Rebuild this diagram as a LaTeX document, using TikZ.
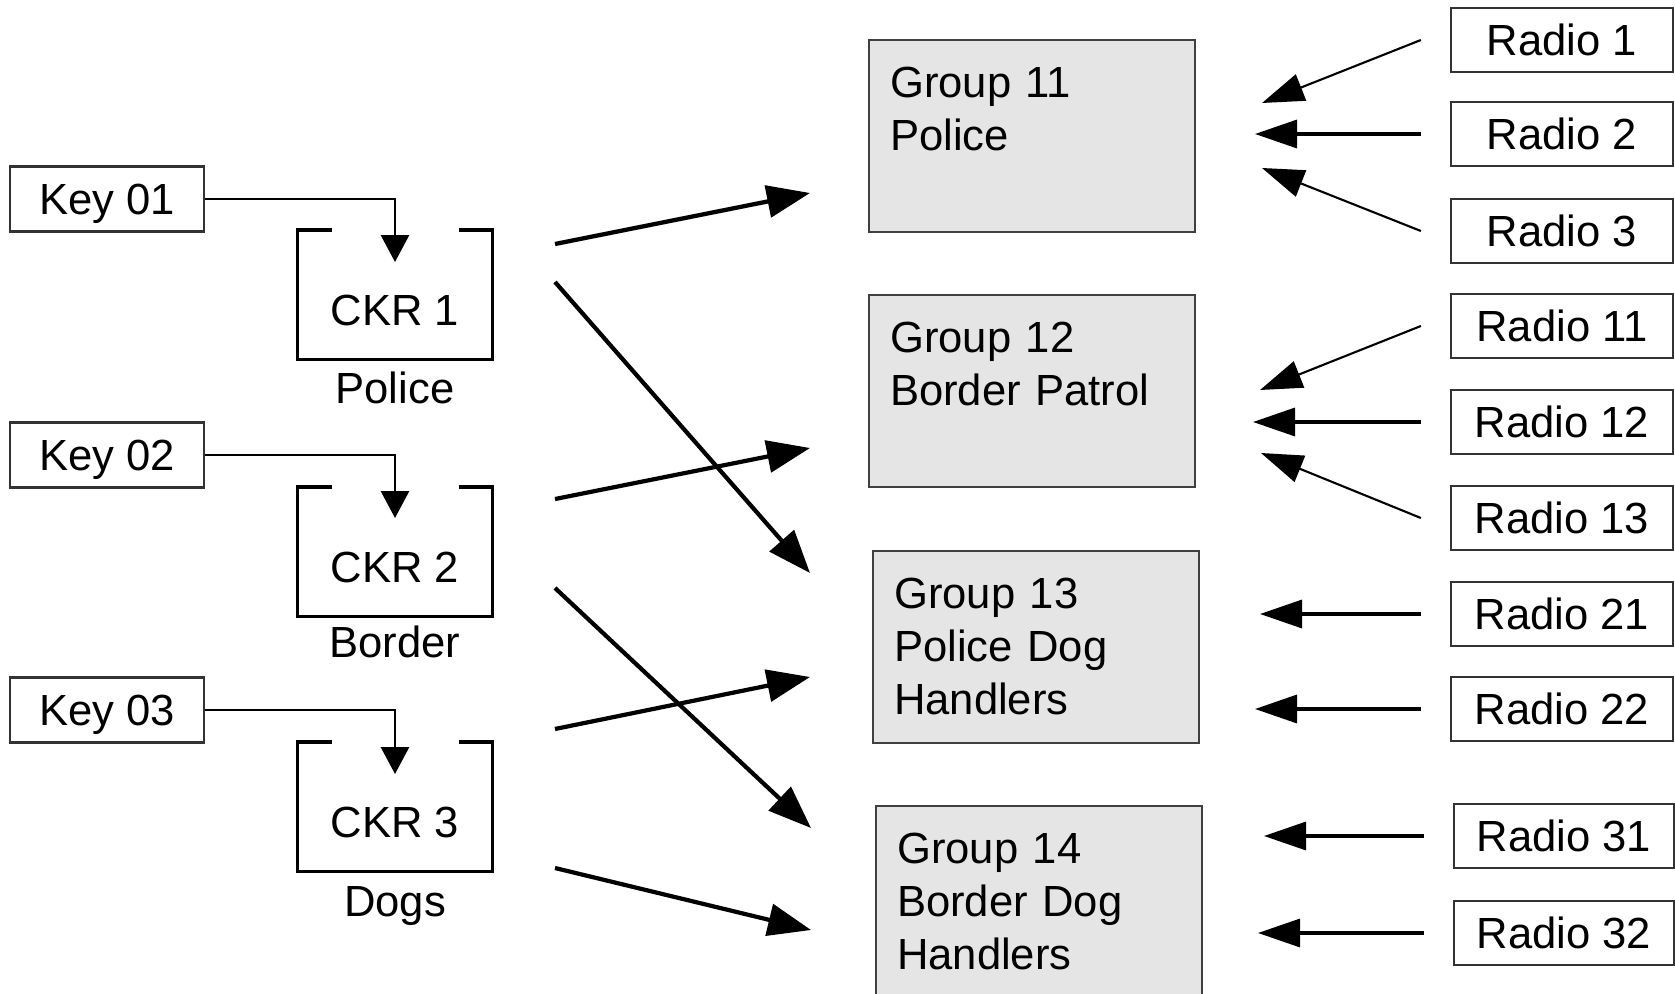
\documentclass[tikz,border=0pt]{standalone}
\usepackage{fontspec}
\setmainfont{Liberation Sans}
\usetikzlibrary{arrows.meta}

\tikzset{
  keybox/.style={draw=black!80, line width=0.6pt, minimum width=1.93cm, minimum height=0.65cm, inner sep=0pt, text height=8.9pt, text depth=0pt},
  radiobox/.style={draw=black!80, line width=0.6pt, minimum width=2.22cm, minimum height=0.64cm, inner sep=0pt, text height=8.9pt, text depth=0pt},
  groupbox/.style={draw=black!75, fill=black!10, line width=0.6pt, anchor=north west, align=left, text width=2.84cm, inner xsep=0.21cm, inner ysep=0pt, text height=0.57cm, text depth=1.35cm},
  ckrbox/.style={anchor=north, minimum width=1.94cm, inner sep=0pt, text height=0.95cm, text depth=0.33cm},
  bracket/.style={line width=0.9pt, line join=miter},
  keyarrow/.style={line width=0.85pt, -{Triangle[length=0.27cm, width=0.28cm]}},
  bigarrow/.style={line width=1.2pt, -{Triangle[length=0.43cm, width=0.32cm]}},
  radioarrow/.style={line width=0.95pt, -{Triangle[length=0.42cm, width=0.28cm]}},
  slantarrow/.style={radioarrow, line width=0.6pt}
}

\begin{document}
\begin{tikzpicture}[x=0.01cm, y=-0.01cm, font=\fontsize{12.4}{15.1}\selectfont]
    \useasboundingbox (0,0) rectangle (1675,994);

    % Keys
    \node[keybox] (key1) at (107,199) {Key 01};
    \node[keybox] (key2) at (107,455) {Key 02};
    \node[keybox] (key3) at (107,710) {Key 03};

    % CKR trays
    \node[ckrbox] (ckr1) at (395,230) {CKR 1};
    \node[ckrbox] (ckr2) at (395,487) {CKR 2};
    \node[ckrbox] (ckr3) at (395,742) {CKR 3};
    \draw[bracket] ([xshift=0.35cm]ckr1.north west) -- (ckr1.north west) -- (ckr1.south west) -- (ckr1.south east) -- (ckr1.north east) -- ([xshift=-0.34cm]ckr1.north east);
    \draw[bracket] ([xshift=0.35cm]ckr2.north west) -- (ckr2.north west) -- (ckr2.south west) -- (ckr2.south east) -- (ckr2.north east) -- ([xshift=-0.34cm]ckr2.north east);
    \draw[bracket] ([xshift=0.35cm]ckr3.north west) -- (ckr3.north west) -- (ckr3.south west) -- (ckr3.south east) -- (ckr3.north east) -- ([xshift=-0.34cm]ckr3.north east);
    \node[anchor=base] (lab1) at ([yshift=-0.44cm]ckr1.south) {Police};
    \node[anchor=base] (lab2) at ([yshift=-0.41cm]ckr2.south) {Border};
    \node[anchor=base] (lab3) at ([yshift=-0.45cm]ckr3.south) {Dogs};

    % Key loading
    \draw[keyarrow] (key1.east) -| ([yshift=-0.32cm]ckr1.north);
    \draw[keyarrow] (key2.east) -| ([yshift=-0.31cm]ckr2.north);
    \draw[keyarrow] (key3.east) -| ([yshift=-0.32cm]ckr3.north);

    % Talk groups
    \node[groupbox] (g11) at (868,39) {Group 11\\Police};
    \node[groupbox] (g12) at (868,294) {Group 12\\Border Patrol};
    \node[groupbox] (g13) at (872,550) {Group 13\\Police Dog\\Handlers};
    \node[groupbox, text depth=1.5cm] (g14) at (875,805) {Group 14\\Border Dog\\Handlers};

    % CKR to group
    \coordinate (out11) at (555,244);
    \coordinate (out13) at (555,282);
    \coordinate (out22) at (555,499);
    \coordinate (out24) at (555,588);
    \coordinate (out33) at (555,729);
    \coordinate (out34) at (555,868);
    \coordinate (in11) at (810,193);
    \coordinate (in13) at (810,573);
    \coordinate (in22) at (810,448);
    \coordinate (in24) at (811,828);
    \coordinate (in33) at (810,677);
    \coordinate (in34) at (811,930);
    \draw[bigarrow] (out11) -- (in11);
    \draw[bigarrow] (out13) -- (in13);
    \draw[bigarrow] (out22) -- (in22);
    \draw[bigarrow] (out24) -- (in24);
    \draw[bigarrow] (out33) -- (in33);
    \draw[bigarrow] (out34) -- (in34);

    % Radios
    \node[radiobox] (r1) at (1562,40) {Radio 1};
    \node[radiobox] (r2) at (1562,134) {Radio 2};
    \node[radiobox] (r3) at (1562,231) {Radio 3};
    \node[radiobox] (r11) at (1562,326) {Radio 11};
    \node[radiobox] (r12) at (1562,422) {Radio 12};
    \node[radiobox] (r13) at (1562,518) {Radio 13};
    \node[radiobox] (r21) at (1562,614) {Radio 21};
    \node[radiobox] (r22) at (1562,709) {Radio 22};
    \node[radiobox, minimum width=2.2cm] (r31) at (1564,836) {Radio 31};
    \node[radiobox, minimum width=2.2cm] (r32) at (1564,933) {Radio 32};

    % Radio to group
    \coordinate (tip1) at (1262,103);
    \coordinate (tip2) at (1255,134);
    \coordinate (tip3) at (1262,168);
    \coordinate (tip11) at (1260,390);
    \coordinate (tip12) at (1253,422);
    \coordinate (tip13) at (1261,453);
    \coordinate (tip21) at (1260,614);
    \coordinate (tip22) at (1255,709);
    \coordinate (tip31) at (1264,836);
    \coordinate (tip32) at (1258,933);
    \draw[slantarrow] ([xshift=-0.29cm]r1.west) -- (tip1);
    \draw[radioarrow] ([xshift=-0.29cm]r2.west) -- (tip2);
    \draw[slantarrow] ([xshift=-0.29cm]r3.west) -- (tip3);
    \draw[slantarrow] ([xshift=-0.29cm]r11.west) -- (tip11);
    \draw[radioarrow] ([xshift=-0.29cm]r12.west) -- (tip12);
    \draw[slantarrow] ([xshift=-0.29cm]r13.west) -- (tip13);
    \draw[radioarrow] ([xshift=-0.29cm]r21.west) -- (tip21);
    \draw[radioarrow] ([xshift=-0.29cm]r22.west) -- (tip22);
    \draw[radioarrow] ([xshift=-0.29cm]r31.west) -- (tip31);
    \draw[radioarrow] ([xshift=-0.29cm]r32.west) -- (tip32);
\end{tikzpicture}
\end{document}
